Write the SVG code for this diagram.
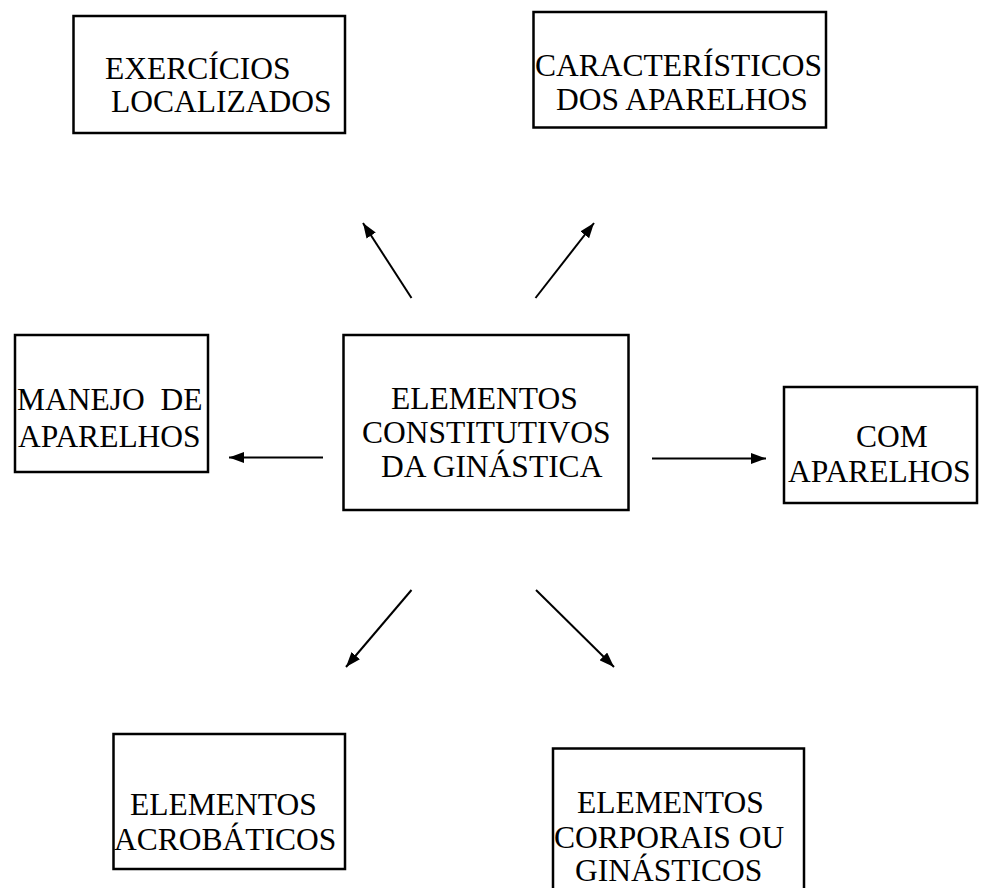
<svg xmlns="http://www.w3.org/2000/svg" width="986" height="888" viewBox="0 0 986 888">
  <style>
    .box { fill: #ffffff; stroke: #000000; stroke-width: 2.5; }
    .lbl { font-family: "Liberation Serif", "Times New Roman", serif; font-size: 31.5px; fill: #000000; white-space: pre; }
    .conn { stroke: #000000; stroke-width: 2; fill: none; marker-end: url(#arrow); }
  </style>
  <defs>
    <marker id="arrow" viewBox="0 0 15 11" refX="15" refY="5.5" markerWidth="15" markerHeight="11" markerUnits="userSpaceOnUse" orient="auto">
      <path d="M0,0 L15,5.5 L0,11 z" fill="#000000"/>
    </marker>
  </defs>
  <rect width="986" height="888" fill="#ffffff"/>

  <g id="node-exercicios">
    <rect class="box" x="73.5" y="16" width="271.5" height="117"/>
    <text class="lbl" x="105" y="79">EXERCÍCIOS</text>
    <text class="lbl" x="111" y="112">LOCALIZADOS</text>
  </g>

  <g id="node-caracteristicos">
    <rect class="box" x="533.5" y="12" width="292.5" height="115.5"/>
    <text class="lbl" x="535" y="76">CARACTERÍSTICOS</text>
    <text class="lbl" x="556" y="110">DOS APARELHOS</text>
  </g>

  <g id="node-manejo">
    <rect class="box" x="15" y="335" width="193" height="137"/>
    <text class="lbl" x="17" y="410">MANEJO  DE</text>
    <text class="lbl" x="18" y="447">APARELHOS</text>
  </g>

  <g id="node-central">
    <rect class="box" x="343.5" y="335" width="285" height="175"/>
    <text class="lbl" x="391" y="409">ELEMENTOS</text>
    <text class="lbl" x="362" y="443">CONSTITUTIVOS</text>
    <text class="lbl" x="381" y="477">DA GINÁSTICA</text>
  </g>

  <g id="node-com">
    <rect class="box" x="784" y="387" width="193" height="116"/>
    <text class="lbl" x="856" y="447">COM</text>
    <text class="lbl" x="788" y="482">APARELHOS</text>
  </g>

  <g id="node-acrobaticos">
    <rect class="box" x="113.5" y="734" width="231.5" height="135"/>
    <text class="lbl" x="130" y="815">ELEMENTOS</text>
    <text class="lbl" x="114" y="850">ACROBÁTICOS</text>
  </g>

  <g id="node-corporais">
    <rect class="box" x="553" y="748.5" width="251" height="160"/>
    <text class="lbl" x="577" y="813">ELEMENTOS</text>
    <text class="lbl" x="554" y="848">CORPORAIS OU</text>
    <text class="lbl" x="575" y="881">GINÁSTICOS</text>
  </g>

  <g id="connectors">
    <line class="conn" x1="411.5" y1="298" x2="363" y2="223"/>
    <line class="conn" x1="535.5" y1="298" x2="594" y2="223"/>
    <line class="conn" x1="323" y1="457.5" x2="229" y2="457.5"/>
    <line class="conn" x1="652" y1="458.5" x2="766" y2="458.5"/>
    <line class="conn" x1="411.5" y1="590" x2="346" y2="667"/>
    <line class="conn" x1="536" y1="590" x2="614" y2="667"/>
  </g>
</svg>
